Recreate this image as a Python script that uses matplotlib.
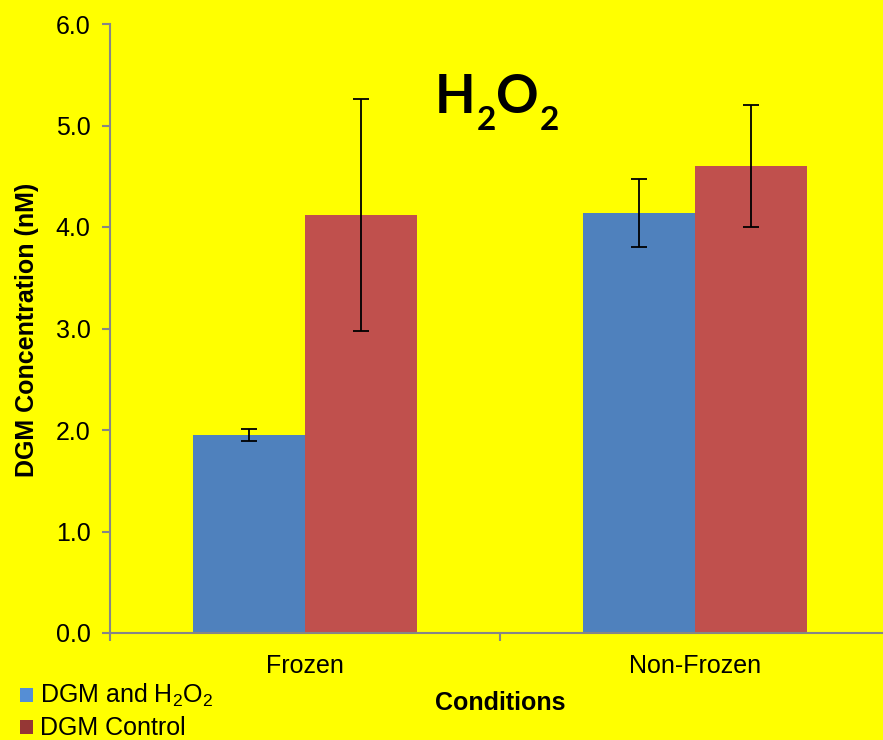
import matplotlib
matplotlib.use("Agg")
import matplotlib.pyplot as plt
from matplotlib.patches import Rectangle
import numpy as np

categories = ["Frozen", "Non-Frozen"]
h2o2_means = [1.95, 4.14]
h2o2_err = [0.055, 0.335]
control_means = [4.12, 4.60]
control_err = [1.14, 0.60]
series_labels = ["DGM and H$_2$O$_2$", "DGM Control"]
series_colors = ["#558ED5", "#953735"]
y_ticks = [0.0, 1.0, 2.0, 3.0, 4.0, 5.0, 6.0]

BG = "#FFFF00"
SPINE = "#868686"
FS = 18
plt.rcParams["font.family"] = ["Liberation Sans", "DejaVu Sans"]
plt.rcParams["mathtext.fontset"] = "custom"
plt.rcParams["mathtext.rm"] = "Liberation Sans"
plt.rcParams["mathtext.it"] = "Liberation Sans:italic"
plt.rcParams["mathtext.bf"] = "Liberation Sans:bold"

fig = plt.figure(figsize=(8.83, 7.40), dpi=100, facecolor=BG)
W, H = 883, 740
ax = fig.add_axes([110 / W, (H - 633) / H, 780 / W, 609 / H])
ax.set_facecolor(BG)

x = np.arange(len(categories))
bw = 0.287
ax.bar(x - bw / 2, h2o2_means, bw, color="#4F81BD", zorder=2)
ax.bar(x + bw / 2, control_means, bw, color="#C0504D", zorder=2)
ekw = dict(fmt="none", ecolor="black", elinewidth=1.3, capsize=5.5, capthick=1.3, zorder=3)
ax.errorbar(x - bw / 2, h2o2_means, yerr=h2o2_err, **ekw)
ax.errorbar(x + bw / 2, control_means, yerr=control_err, **ekw)

ax.set_xlim(-0.5, 1.5)
ax.set_ylim(0, 6)
ax.set_yticks(y_ticks)
ax.set_yticklabels([f"{v:.1f}" for v in y_ticks], fontsize=FS)
ax.set_xticks([-0.5, 0.5, 1.5])
ax.set_xticklabels([])
ax.set_xticks(x, minor=True)
ax.set_xticklabels(categories, minor=True, fontsize=FS)
ax.tick_params(axis="x", which="minor", length=0, pad=15)
ax.tick_params(axis="x", which="major", length=6, color=SPINE, width=1.5, direction="out")
ax.tick_params(axis="y", length=6, color=SPINE, width=1.5, direction="out", pad=8)

for s in ["top", "right"]:
    ax.spines[s].set_visible(False)
for s in ["left", "bottom"]:
    ax.spines[s].set_color(SPINE)
    ax.spines[s].set_linewidth(1.5)

fig.text(27 / W, 1 - 330 / H, "DGM Concentration (nM)", fontsize=FS, fontweight="bold",
         rotation=90, ha="center", va="center")
fig.text(500 / W, 1 - 703 / H, "Conditions", fontsize=FS, fontweight="bold",
         ha="center", va="center")

# Chemical formula heading, built piece by piece so the subscripts sit low
renderer = fig.canvas.get_renderer()
pieces = [("H", 38, 0), ("2", 24, 17), ("O", 38, 0), ("2", 24, 17)]
base_y = 113
cur = 0.0
texts = []
for s, size, drop in pieces:
    t = fig.text(cur / W, 1 - (base_y + drop) / H, s, fontsize=size, fontweight="bold",
                 family=["Lato", "DejaVu Sans"], ha="left", va="baseline")
    bb = t.get_window_extent(renderer)
    texts.append(t)
    cur = bb.x1 + 1
total = cur - 1
shift = 497 - total / 2
for t in texts:
    px, py = t.get_position()
    t.set_position((px + shift / W, py))

# Legend keys drawn at the lower left
rows_baseline = [703, 735]
for lab, col, yb in zip(series_labels, series_colors, rows_baseline):
    fig.add_artist(Rectangle((20 / W, 1 - (yb - 1) / H), 13 / W, 14 / H,
                             transform=fig.transFigure, facecolor=col, edgecolor="none"))
    fig.text(40 / W, 1 - yb / H, lab, fontsize=FS, ha="left", va="baseline")

fig.savefig("out.png", dpi=100, facecolor=BG)
